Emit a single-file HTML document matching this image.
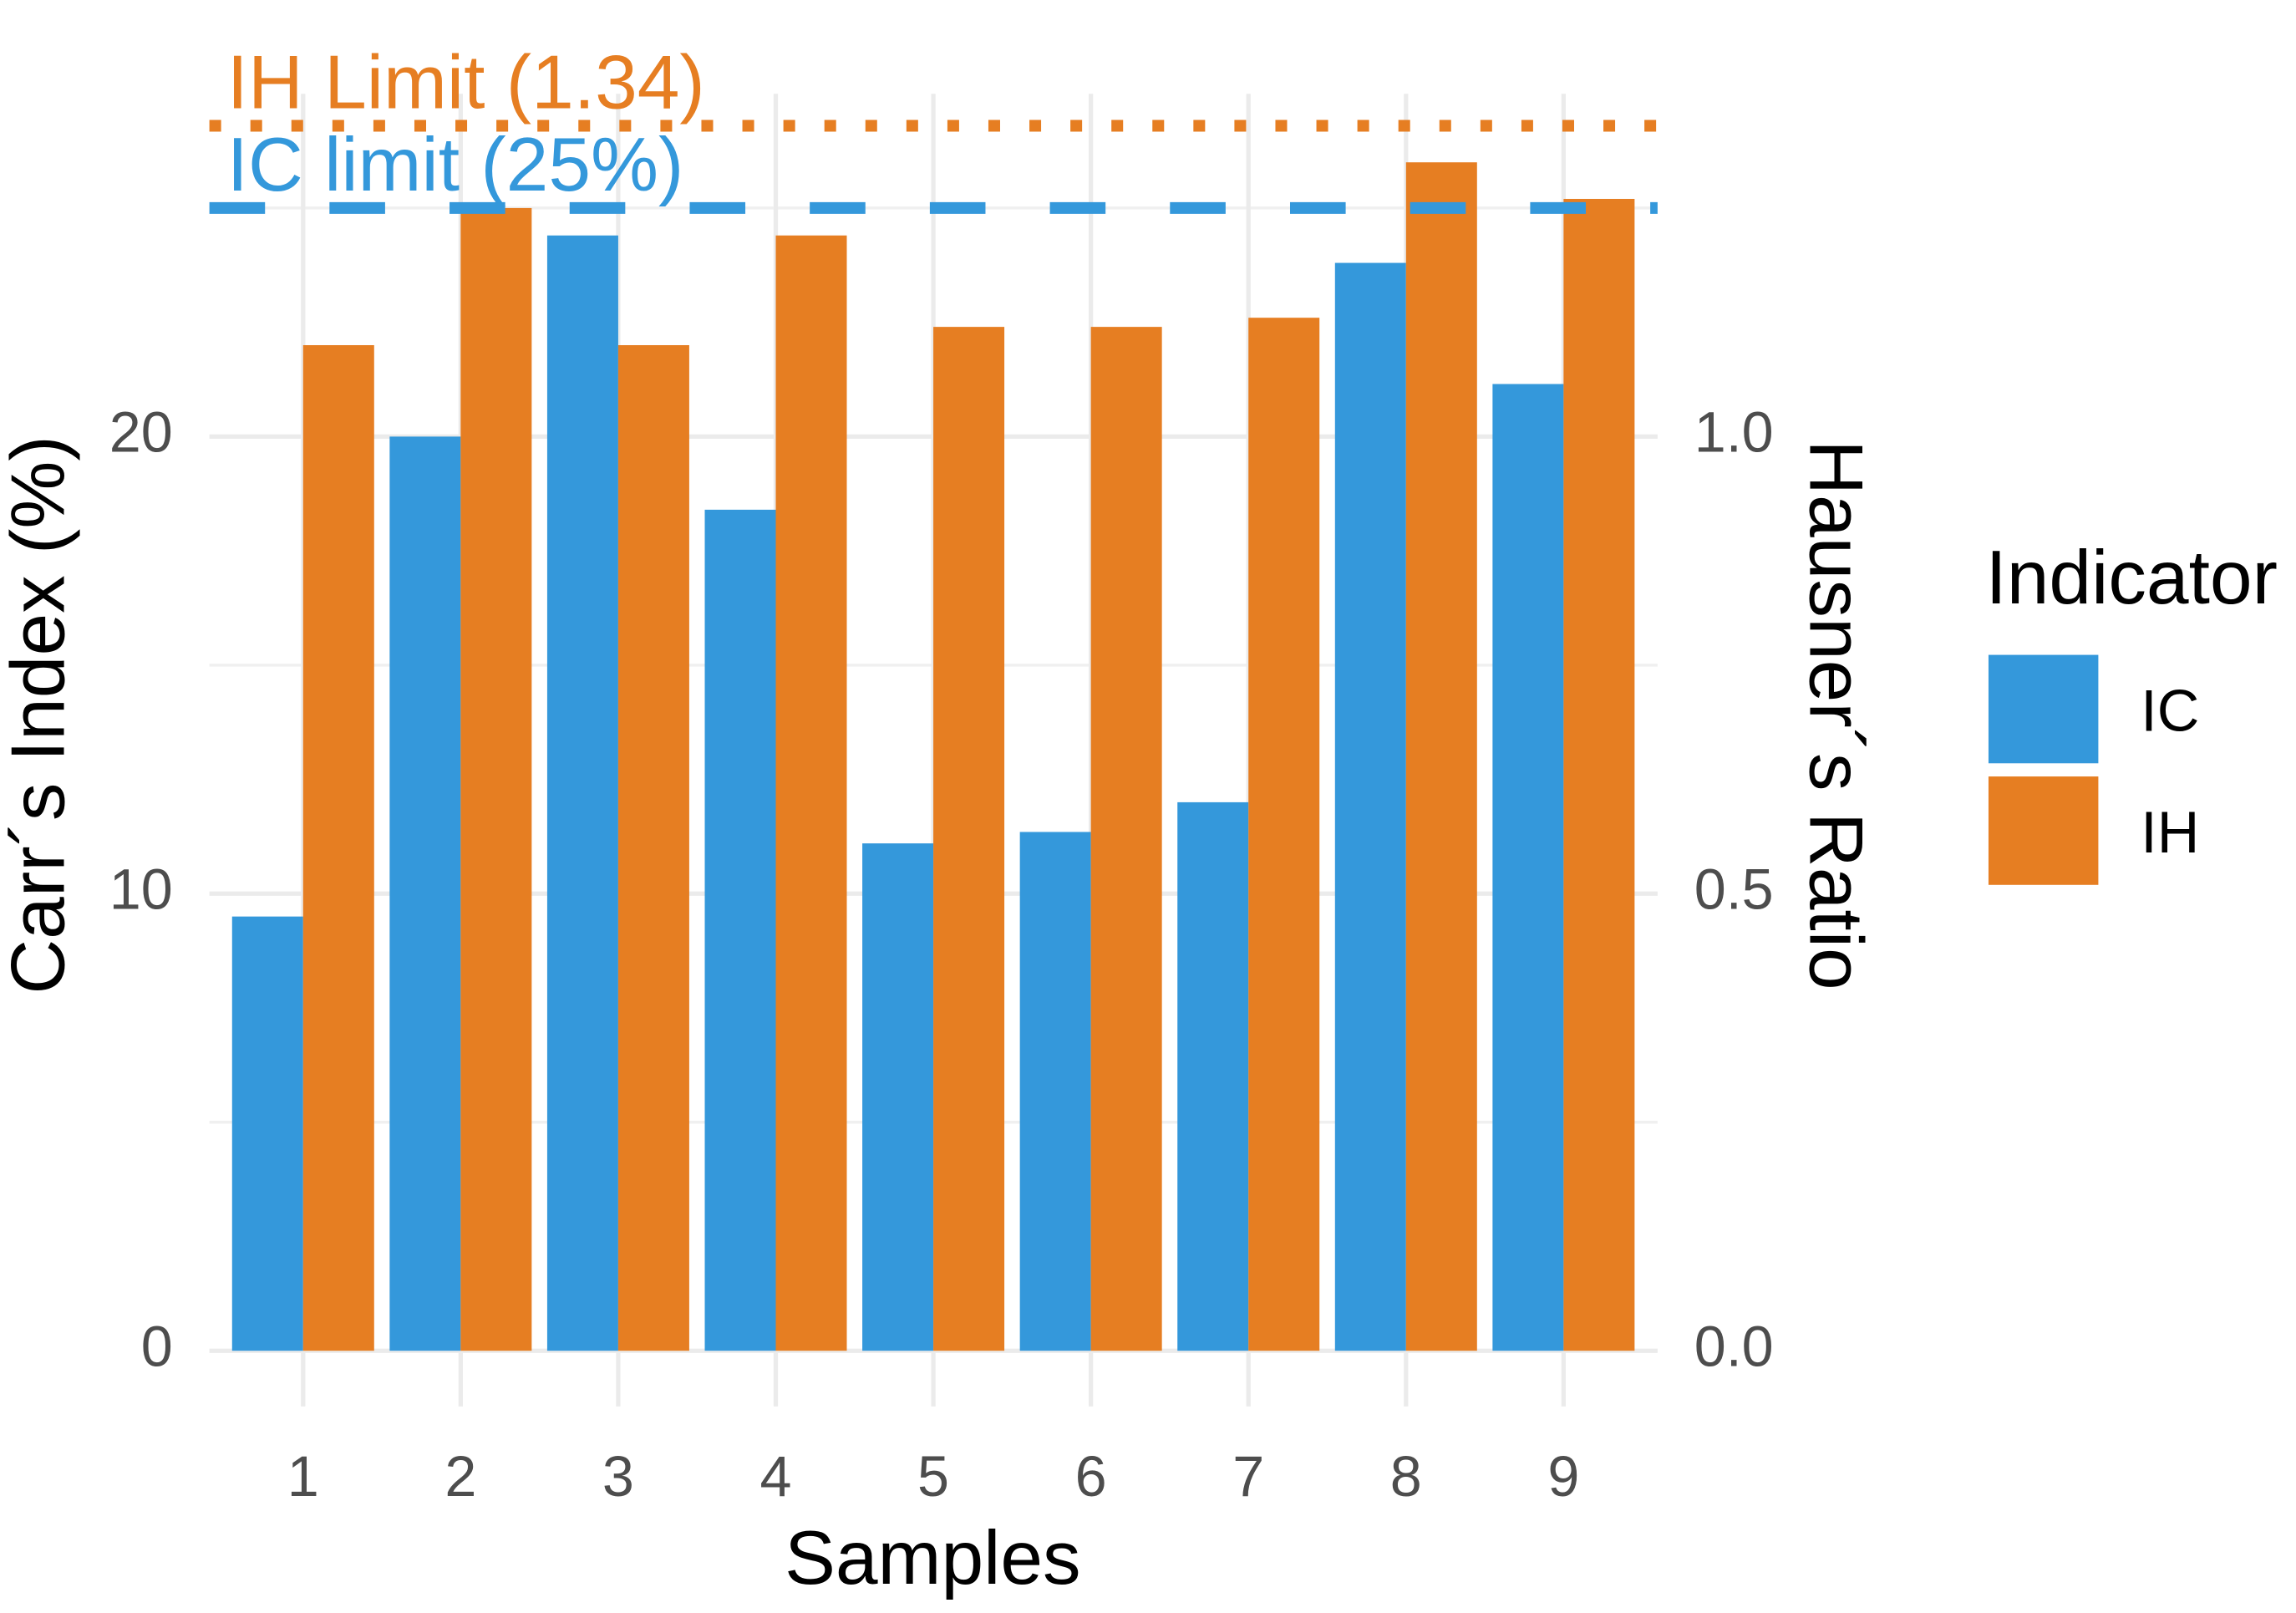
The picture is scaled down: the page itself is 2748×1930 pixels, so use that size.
<!DOCTYPE html>
<html><head><meta charset="utf-8"><style>
html,body{margin:0;padding:0;background:#fff}
svg{display:block}
text{font-family:"Liberation Sans",sans-serif}
</style></head><body>
<svg id="chart" width="2748" height="1930" viewBox="0 0 1568 1101" preserveAspectRatio="none" xmlns="http://www.w3.org/2000/svg">
<g id="grid"></g>
<g id="bars"></g>
<g id="refs"></g>
<g id="axes"></g>
<text x="30" y="488" transform="rotate(-90 30 488)" text-anchor="middle" dominant-baseline="middle" font-size="52" fill="#000">Carr´s Index (%)</text>
<text x="1250" y="488" transform="rotate(90 1250 488)" text-anchor="middle" dominant-baseline="middle" font-size="52" fill="#000">Hausner´s Ratio</text>
<text x="637" y="1081" text-anchor="middle" font-size="52" fill="#000">Samples</text>
<g>
<text x="1356" y="412" font-size="52" fill="#000">Indicator</text>
<rect x="1358" y="447" width="75" height="74" fill="#3498db"/>
<text x="1462" y="499" font-size="40" fill="#000">IC</text>
<rect x="1358" y="530" width="75" height="74" fill="#e67e22"/>
<text x="1462" y="582" font-size="40" fill="#000">IH</text>
</g>
</svg>
<script>
const categories = ["1","2","3","4","5","6","7","8","9"];
const icValues = [9.5, 20, 24.4, 18.4, 11.1, 11.35, 12.0, 23.8, 21.15];
const ihValues = [1.10, 1.25, 1.10, 1.22, 1.12, 1.12, 1.13, 1.30, 1.26];
const leftTicks = [0, 10, 20];
const rightTicks = ["0.0", "0.5", "1.0"];
const minorTicks = [5, 15, 25];
const icLimit = 25;
const ihLimit = 1.34;

const NS = "http://www.w3.org/2000/svg";
const x0 = 143, x1 = 1132, y0 = 922, pxPerUnit = 31.2;
const step = 107.6, firstCenter = 207, barW = 48.5;
function yScale(v){ return y0 - v * pxPerUnit; }
function yScaleHR(v){ return yScale(v * 20); }
function xScale(i){ return firstCenter + i * step; }
function mk(tag, attrs, parent){
  const el = document.createElementNS(NS, tag);
  for (const k in attrs) el.setAttribute(k, attrs[k]);
  parent.appendChild(el);
  return el;
}
const grid = document.getElementById("grid");
const bars = document.getElementById("bars");
const refs = document.getElementById("refs");
const axes = document.getElementById("axes");

minorTicks.forEach(t => {
  const l = mk("line", {x1:x0, x2:x1, y1:yScale(t), y2:yScale(t), stroke:"#f0f0f0", "stroke-width":2}, grid);
  
  
});
leftTicks.forEach((t, i) => {
  const l = mk("line", {x1:x0, x2:x1, y1:yScale(t), y2:yScale(t), stroke:"#ebebeb", "stroke-width":3}, grid);
  
  
  const tl = mk("text", {x:118, y:yScale(t), "text-anchor":"end", "dominant-baseline":"middle", "font-size":39, fill:"#4d4d4d"}, axes);
  tl.textContent = t;
  
  
  const tr = mk("text", {x:1157, y:yScale(t), "dominant-baseline":"middle", "font-size":39, fill:"#4d4d4d"}, axes);
  tr.textContent = rightTicks[i];
  
  
});
categories.forEach((c, i) => {
  const cx = xScale(i);
  const g = mk("line", {x1:cx, x2:cx, y1:yScale(27.5), y2:960, stroke:"#ebebeb", "stroke-width":3}, grid);
  
  
  const b1 = mk("rect", {x:cx - barW, y:yScale(icValues[i]), width:barW, height:y0 - yScale(icValues[i]), fill:"#3498db"}, bars);
  
  
  const b2 = mk("rect", {x:cx, y:yScaleHR(ihValues[i]), width:barW, height:y0 - yScaleHR(ihValues[i]), fill:"#e67e22"}, bars);
  
  
  const t = mk("text", {x:cx, y:1021, "text-anchor":"middle", "font-size":39, fill:"#4d4d4d"}, axes);
  t.textContent = c;
  
  
});
const ihLine = mk("line", {x1:x0, x2:x1, y1:yScaleHR(ihLimit), y2:yScaleHR(ihLimit), stroke:"#e67e22", "stroke-width":8, "stroke-dasharray":"8 20"}, refs);


const icLine = mk("line", {x1:x0, x2:x1, y1:yScale(icLimit), y2:yScale(icLimit), stroke:"#3498db", "stroke-width":8, "stroke-dasharray":"38 44"}, refs);


const ihLab = mk("text", {x:155, y:yScaleHR(ihLimit) - 12, "font-size":52, fill:"#e67e22"}, refs);
ihLab.textContent = "IH Limit (" + ihLimit + ")";


const icLab = mk("text", {x:155, y:yScale(icLimit) - 12, "font-size":52, fill:"#3498db"}, refs);
icLab.textContent = "IC limit (" + icLimit + "%)";


</script>
</body></html>
